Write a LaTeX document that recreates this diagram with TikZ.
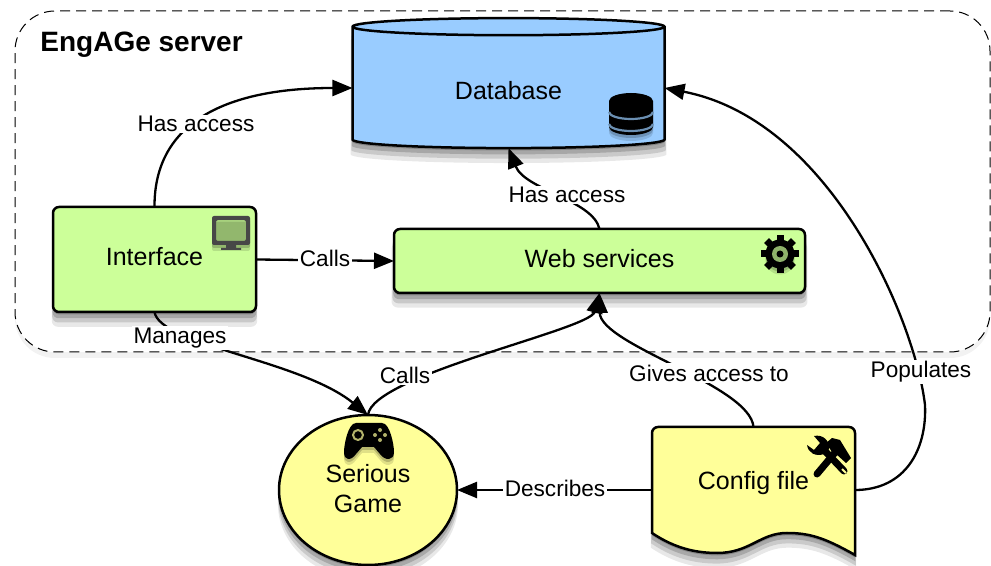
\documentclass[tikz,border=0pt]{standalone}
\usepackage{fontspec}
\setmainfont{Liberation Sans}
\usepackage{xcolor}
\usetikzlibrary{positioning}
\usetikzlibrary{shapes.geometric}
\usetikzlibrary{arrows.meta}
\usetikzlibrary{shadows}
\definecolor{dbblue}{HTML}{99CCFF}
\definecolor{svcgreen}{HTML}{CCFF99}
\definecolor{gameyellow}{HTML}{FFFF99}

\begin{document}
\begin{tikzpicture}[
  x=0.5pt, y=-0.5pt,
  softshadow/.style={
    drop shadow={shadow xshift=0pt, shadow yshift=-7pt, shadow scale=1.012, opacity=.09, fill=black},
    drop shadow={shadow xshift=0pt, shadow yshift=-5pt, shadow scale=1.008, opacity=.13, fill=black},
    drop shadow={shadow xshift=0pt, shadow yshift=-3pt, shadow scale=1.004, opacity=.17, fill=black},
    drop shadow={shadow xshift=0pt, shadow yshift=-1.2pt, opacity=.2, fill=black}},
  iconshade/.style={
    drop shadow={shadow xshift=0pt, shadow yshift=-1.5pt, opacity=.18, fill=black},
    drop shadow={shadow xshift=0pt, shadow yshift=-3pt, opacity=.12, fill=black}},
  shape box/.style={draw=black, line width=1.25pt, inner sep=0pt, outer sep=0pt, align=center,
    font=\fontsize{12.5}{15}\selectfont},
  svc/.style={shape box, rounded corners=3pt, fill=svcgreen, softshadow},
  lbl/.style={fill=white, inner sep=0.8pt, font=\fontsize{11.3}{13}\selectfont},
  arrow/.style={-{Triangle[length=10pt, width=8pt]}, line width=1.15pt}
]
\useasboundingbox (0,0) rectangle (991,566);

% Server region
\node[draw=black, line width=0.5pt, dash pattern=on 5pt off 3pt, rounded corners=20pt, fill=white,
  minimum width=487.5pt, minimum height=170.5pt, inner sep=0pt, outer sep=0pt,
  drop shadow={shadow xshift=0pt, shadow yshift=-3pt, opacity=.05, fill=black}] (server) at (502.5,181.5) {};
\node[font=\bfseries\fontsize{14}{17}\selectfont, inner sep=0pt, anchor=west] (title) at (40,45) {EngAGe server};

% Nodes
\node[shape box, cylinder, shape border rotate=90, aspect=0.16, fill=dbblue, softshadow,
  minimum width=156pt, minimum height=65pt] (database) at (508.5,88) {\raisebox{-6pt}[0pt][0pt]{Database}};
\node[svc, minimum width=101.5pt, minimum height=52.5pt] (interface) at (154.5,259.5) {\raisebox{-3.25pt}[0pt][0pt]{Interface}};
\node[svc, minimum width=205.5pt, minimum height=32pt] (webservices) at (599.5,261) {\raisebox{-3.5pt}[0pt][0pt]{Web services}};
\node[shape box, ellipse, fill=gameyellow, softshadow, minimum width=89pt, minimum height=75pt] (game) at (368,490) {Serious\\Game\rule[-2pt]{0pt}{0pt}};

% Config file outline
\draw[line width=1.25pt, fill=gameyellow, softshadow] (652,533) [rounded corners=3pt] -- (652,427) -- (855,427) [sharp corners] -- (855,555)
  .. controls (825,538) and (810,533) .. (787,533)
  .. controls (760,533) and (750,553) .. (717,553)
  .. controls (690,553) and (670,545) .. (652,533) -- cycle;
\node[inner sep=0pt, outer sep=0pt, minimum width=101.5pt, minimum height=63pt, font=\fontsize{12.5}{15}\selectfont] (config) at (753.5,490) {\raisebox{0pt}[0pt][0pt]{Config file}};

% Connectors
\draw[arrow] (interface.north) .. controls (154,120) and (230,88) .. (database.west);
\draw[arrow] (webservices.north) .. controls (593,200) and (525,190) .. (database.south);
\draw[arrow] (interface.east) -- (webservices.west);
\draw[arrow] (interface.south) .. controls (160,345) and (300,360) .. (game.north);
\draw[arrow] (game.north) .. controls (372,375) and (590,330) .. (webservices.south);
\draw[arrow] (config.north) .. controls (750,385) and (600,345) .. (webservices.south);
\draw[arrow] (config.west) -- (game.east);
\draw[arrow] (config.east) .. controls (905,490) and (927,450) .. (925,405)
  .. controls (915,320) and (830,120) .. (database.east);

% Connector labels
\node[lbl] (l1) at (196,124) {Has access};
\node[lbl] (l2) at (567,195) {Has access};
\node[lbl] (l3) at (325,258) {Calls};
\node[lbl] (l4) at (180,338) {Manages};
\node[lbl] (l5) at (405,375) {Calls};
\node[lbl] (l6) at (709,373) {Gives access to};
\node[lbl] (l7) at (921,372) {Populates};
\node[lbl] (l8) at (555,488) {Describes};

% Database icon
\fill[iconshade] (609,101) -- (609,127) arc[start angle=180, end angle=0, x radius=22, y radius=8]
  -- (653,101) arc[start angle=0, end angle=-180, x radius=22, y radius=8] -- cycle;
\foreach \by in {112,124} {
  \draw[line width=1.1pt, color=dbblue!70!black] (609,\by) arc[start angle=180, end angle=0, x radius=22, y radius=7];
}

% Monitor icon
\fill[black!72, even odd rule, rounded corners=1pt, iconshade] (212,216) rectangle (250,245) (216,220) rectangle (246,241);
\fill[black!72] (226,245) -- (236,245) -- (236,248) -- (241,248) -- (241,250) -- (221,250) -- (221,248) -- (226,248) -- cycle;

% Gear icon
\foreach \a in {0,45,...,315} {
  \fill[rotate around={\a:(780,254)}] (776.5,235) rectangle (783.5,244);
}
\fill[iconshade] (780,254) circle[radius=14.5];
\fill[svcgreen!70!black] (780,254) circle[radius=8];
\fill (780,254) circle[radius=3.5];

% Gamepad icon
\fill[iconshade] (356,423) -- (382,423) .. controls (390,423) and (394,445) .. (394,452)
  .. controls (394,461) and (385,461) .. (380,454) -- (374,447) -- (362,447) -- (356,454)
  .. controls (351,461) and (344,461) .. (344,452) .. controls (344,445) and (348,423) .. (356,423) -- cycle;
\draw[gameyellow!70!black, line width=1pt] (358,435) circle[radius=5];
\foreach \dx/\dy in {-5/0,5/0,0/-5,0/5} {
  \fill[gameyellow!70!black] (380+\dx,435+\dy) circle[radius=2];
}

% Tools icon
\draw[line width=3.5pt, line cap=round] (824,450) -- (844,471);
\fill (807,445) -- (814,450) -- (820,443) -- (814,436) .. controls (823,434) and (830,441) .. (829,449)
  -- (824,454) .. controls (816,457) and (808,453) .. (807,445) -- cycle;
\draw[gameyellow, line width=1pt] (842,469) -- (846,473);
\draw[line width=3.5pt, line cap=round] (817,474) -- (838,449);
\fill (826,443) -- (832,438) -- (840,440) -- (851,458) -- (846,463) -- (836,454) -- (832,452) -- cycle;

\end{tikzpicture}
\end{document}
